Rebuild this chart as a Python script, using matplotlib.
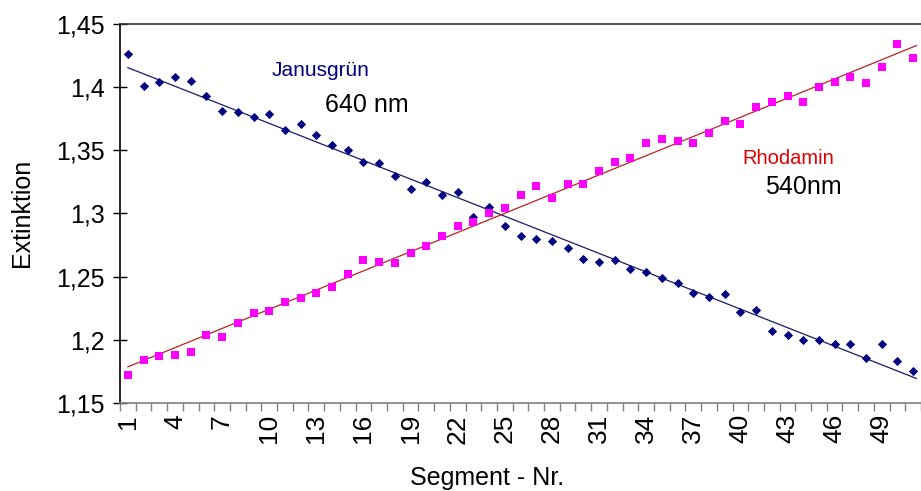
import numpy as np
import matplotlib
matplotlib.use("Agg")
import matplotlib.pyplot as plt

plt.rcParams['font.family'] = ['Liberation Sans', 'DejaVu Sans']

segments = list(range(1, 52))
janusgruen = [1.426, 1.401, 1.404, 1.408, 1.405, 1.393, 1.381, 1.380, 1.376, 1.379,
              1.366, 1.371, 1.362, 1.354, 1.350, 1.341, 1.340, 1.330, 1.319, 1.325,
              1.315, 1.317, 1.297, 1.305, 1.290, 1.282, 1.280, 1.278, 1.273, 1.264,
              1.262, 1.263, 1.256, 1.254, 1.249, 1.245, 1.237, 1.234, 1.236, 1.222,
              1.224, 1.207, 1.204, 1.200, 1.200, 1.197, 1.197, 1.186, 1.197, 1.183,
              1.175]
rhodamin = [1.172, 1.184, 1.187, 1.188, 1.190, 1.204, 1.202, 1.213, 1.221, 1.223,
            1.230, 1.233, 1.237, 1.242, 1.252, 1.263, 1.262, 1.261, 1.269, 1.274,
            1.282, 1.290, 1.293, 1.300, 1.304, 1.315, 1.322, 1.312, 1.323, 1.323,
            1.334, 1.341, 1.344, 1.356, 1.359, 1.357, 1.356, 1.364, 1.373, 1.371,
            1.384, 1.388, 1.393, 1.388, 1.400, 1.404, 1.408, 1.403, 1.416, 1.434,
            1.423]
y_ticks = [1.15, 1.2, 1.25, 1.3, 1.35, 1.4, 1.45]
y_tick_labels = ['1,15', '1,2', '1,25', '1,3', '1,35', '1,4', '1,45']
x_tick_labels = list(range(1, 52, 3))

W, H = 921, 491
fig = plt.figure(figsize=(W / 100, H / 100), dpi=100)
ax = fig.add_axes([120 / W, 1 - 403 / H, (921 - 120) / W, (403 - 24) / H])

x = np.array(segments, dtype=float)
jg = np.array(janusgruen)
rh = np.array(rhodamin)

# trend lines (linear fits)
pj = np.polyfit(x, jg, 1)
pr = np.polyfit(x, rh, 1)
xl = np.array([1, 51.2])
ax.plot(xl, np.polyval(pj, xl), color='#1a1a66', lw=0.9, zorder=2)
ax.plot(xl, np.polyval(pr, xl), color='#c02020', lw=0.9, zorder=2)

ax.scatter(x, jg, marker='D', s=22, color='#000080', linewidths=0, zorder=3)
ax.scatter(x, rh, marker='s', s=34, color='#ff00ff', linewidths=0, zorder=3)

ax.set_xlim(0.5, 51.5)
ax.set_ylim(1.15, 1.45)

ax.set_yticks(y_ticks)
ax.set_yticklabels(y_tick_labels, fontsize=18)
ax.tick_params(axis='y', direction='inout', length=10, width=1, color='black', pad=6)

ax.set_xticks(x_tick_labels)
ax.set_xticklabels([str(v) for v in x_tick_labels], rotation=90, fontsize=19)
ax.tick_params(axis='x', length=0, pad=8)
ax.set_xticks(np.arange(0.5, 52, 1), minor=True)
ax.tick_params(axis='x', which='minor', direction='out', length=6, width=1, color='#808080')

ax.spines['right'].set_visible(False)
ax.spines['left'].set_color('black')
ax.spines['top'].set_color('#333333')
ax.spines['bottom'].set_color('#808080')
for s in ['left', 'top', 'bottom']:
    ax.spines[s].set_linewidth(1.2)

fig.text(22 / W, 1 - 213 / H, 'Extinktion', rotation=90, fontsize=18,
         ha='center', va='center')
fig.text(487 / W, 1 - 478 / H, 'Segment - Nr.', fontsize=18,
         ha='center', va='center')

ax.text(10.17, 1.4128, 'Janusgrün', color='#000080', fontsize=15, ha='left', va='center')
ax.text(13.55, 1.3859, '640 nm', color='black', fontsize=18, ha='left', va='center')
ax.text(40.1, 1.3439, 'Rhodamin', color='#e00000', fontsize=14.5, ha='left', va='center')
ax.text(41.57, 1.321, '540nm', color='black', fontsize=18, ha='left', va='center')

fig.savefig('out.png', dpi=100)
